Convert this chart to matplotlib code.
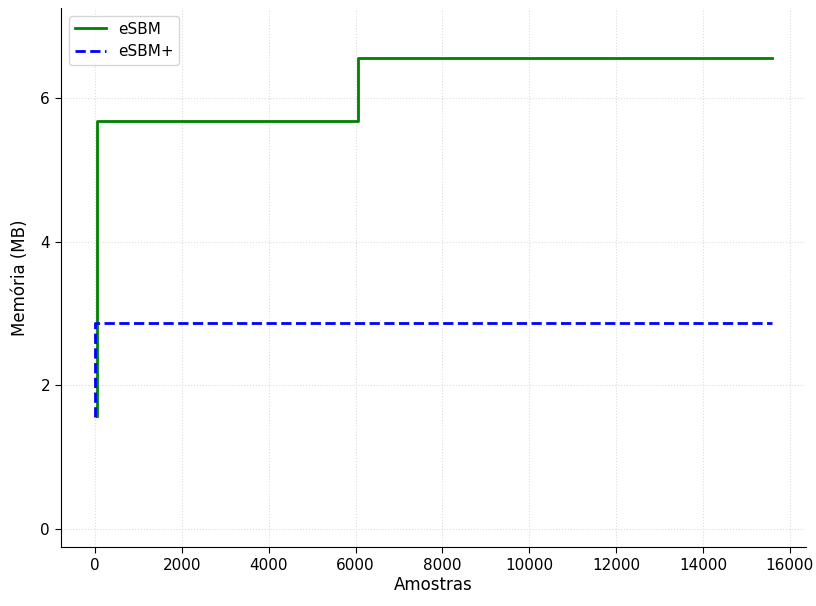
import matplotlib
matplotlib.use("Agg")
import matplotlib.pyplot as plt

# Memory usage over processed samples
esbm_samples = [40, 40, 6050, 6050, 15600]
esbm_memory = [1.58, 5.67, 5.67, 6.55, 6.55]

esbm_plus_samples = [0, 0, 15600]
esbm_plus_memory = [1.56, 2.87, 2.87]

fig, ax = plt.subplots(figsize=(8.16, 6.06), dpi=100)
ax.plot(esbm_samples, esbm_memory, color="green", lw=2, label="eSBM")
ax.plot(esbm_plus_samples, esbm_plus_memory, color="blue", lw=2, ls="--",
        label="eSBM+")

ax.set_xlim(-780, 16380)
ax.set_ylim(-0.25, 7.25)
ax.set_xticks(range(0, 16001, 2000))
ax.set_yticks([0, 2, 4, 6])
ax.tick_params(labelsize=11, length=4.5)
ax.set_xlabel("Amostras", fontsize=12, labelpad=2)
ax.set_ylabel("Memória (MB)", fontsize=12, labelpad=8)
ax.grid(True, ls=":", color="#dcdcdc", lw=0.8)
ax.spines["top"].set_visible(False)
ax.spines["right"].set_visible(False)
ax.legend(loc="upper left", fontsize=11)

fig.subplots_adjust(left=0.075, right=0.988, top=0.987, bottom=0.097)
fig.savefig("out.png", dpi=100)
